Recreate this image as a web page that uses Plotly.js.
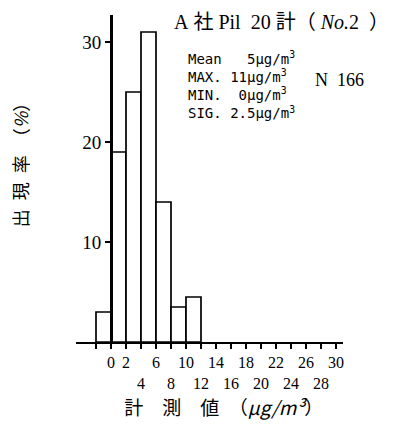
<!DOCTYPE html>
<html>
<head>
<meta charset="utf-8">
<script src="https://cdn.plot.ly/plotly-3.0.1.min.js"></script>
<style>html,body{margin:0;padding:0;background:#fff;}#chart{width:395px;height:428px;}</style>
</head>
<body>
<div id="chart"></div>
<script>
// Class centres (µg/m³, bin width 2) and occurrence rate (%)
const binCenters = [-1, 1, 3, 5, 7, 9, 11];
const rates = [3.0, 19.0, 25.0, 31.0, 14.0, 3.5, 4.5];
const binWidth = 2;

// x tick positions and labels (labels alternate between two rows)
const xTickVals = [-2, 0, 2, 4, 6, 8, 10, 12, 14, 16, 18, 20, 22, 24, 26, 28, 30];
const xTickLabels = ["", "0", "2", "4", "6", "8", "10", "12", "14", "16", "18", "20", "22", "24", "26", "28", "30"];
const xLowerRow = ["4", "8", "12", "16", "20", "24", "28"];

const yTickVals = [10, 20, 30];

// statistics block
const statLabels = ["Mean", "MAX.", "MIN.", "SIG."];
const statValues = ["5", "11", "0", "2.5"];
const statPad = [3, 1, 2, 1];
const sampleCount = "166";

const nb = "\u00a0";
const titleText = "A" + nb + "社" + nb + "Pil" + nb + nb + "20" + nb + "計（" + nb + "<i>No.</i>2" + nb + nb + "）";
const xTitle = "\u200b\u3000\u2002計\u3000測\u3000値\u3000（<i>µg/m³</i>）";
const yTitle = "\u200b\u2003\u2003出\u2002現\u2002率\u2002（<i>%</i>）";

const serif = "Liberation Serif, Noto Sans CJK JP, serif";
const cjk = "Noto Sans CJK JP, Liberation Serif, sans-serif";
const mono = "DejaVu Sans Mono, monospace";

const tickText = xTickLabels.map(t => xLowerRow.includes(t) ? "<br>" + t : t);

const statText = statLabels.map((l, i) =>
  l + nb.repeat(statPad[i]) + statValues[i] + "µg/m<sup>3</sup>").join("<br>");

const trace = {
  type: "bar",
  x: binCenters,
  y: rates,
  width: binCenters.map(() => binWidth),
  marker: {color: "#ffffff", line: {color: "#000000", width: 1.7}},
  hoverinfo: "skip"
};

const layout = {
  width: 395, height: 428,
  margin: {l: 76, r: 52, t: 15, b: 86},
  paper_bgcolor: "#ffffff", plot_bgcolor: "#ffffff",
  showlegend: false,
  bargap: 0,
  title: {text: titleText, font: {family: serif, size: 20, color: "#000"},
          xref: "container", x: 174 / 395, xanchor: "left", y: 0.948, yanchor: "middle"},
  xaxis: {
    range: [-4.667, 30.933],
    showgrid: false, zeroline: false,
    showline: true, linecolor: "#000", linewidth: 2,
    tickmode: "array", tickvals: xTickVals, ticktext: tickText,
    ticks: "outside", ticklen: 5, tickwidth: 1.5, tickcolor: "#000",
    tickangle: 0,
    tickfont: {family: serif, size: 16, color: "#000"},
    title: {text: xTitle, font: {family: cjk, size: 19, color: "#000"}, standoff: 11},
    automargin: false, fixedrange: true
  },
  yaxis: {
    range: [0, 32.7],
    anchor: "free", position: 0.1311,
    showgrid: false, zeroline: false,
    showline: true, linecolor: "#000", linewidth: 2.5,
    tickmode: "array", tickvals: yTickVals,
    ticks: "outside", ticklen: 5, tickwidth: 2, tickcolor: "#000",
    tickfont: {family: serif, size: 19, color: "#000"},
    title: {text: yTitle, font: {family: cjk, size: 18, color: "#000"}, standoff: 48},
    automargin: false, fixedrange: true
  },
  annotations: [
    {xref: "paper", yref: "paper", x: (186 - 76) / 267, y: (342 - 47) / 327,
     xanchor: "left", yanchor: "top", align: "left", showarrow: false,
     text: statText, font: {family: mono, size: 14, color: "#000"}},
    {xref: "paper", yref: "paper", x: (313 - 76) / 267, y: (342 - 80) / 327,
     xanchor: "left", yanchor: "middle", showarrow: false,
     text: "N" + nb + nb + sampleCount, font: {family: serif, size: 18, color: "#000"}}
  ]
};

Plotly.newPlot("chart", [trace], layout, {displayModeBar: false, staticPlot: true});
</script>
</body>
</html>
